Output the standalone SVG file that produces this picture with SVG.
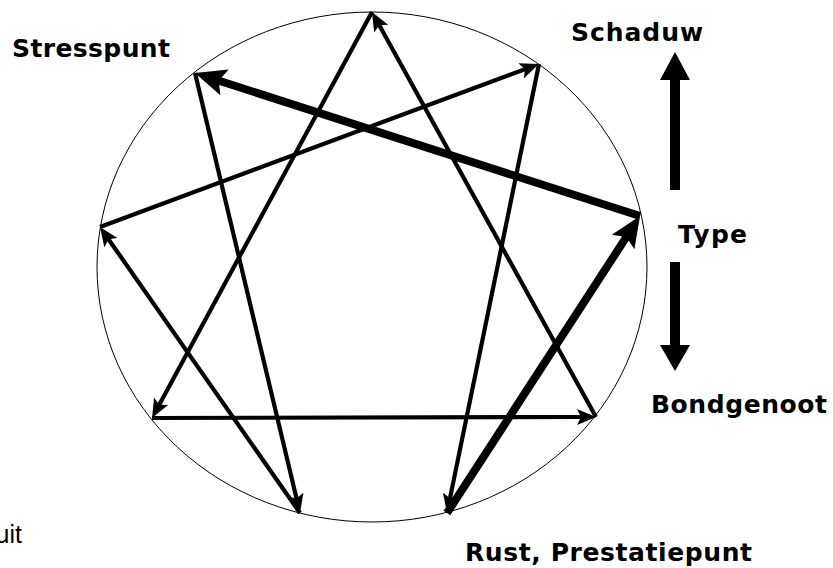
<svg xmlns="http://www.w3.org/2000/svg" width="833" height="568" viewBox="0 0 833 568">
  <style>
    .lbl { font-family: "DejaVu Sans", Verdana, sans-serif; font-weight: bold; font-size: 25px; fill: #000; }
    .reg { font-family: "Liberation Sans", Arial, sans-serif; font-size: 25px; fill: #000; }
    .thin { stroke: #000; stroke-width: 4.2; fill: none; marker-end: url(#ah); }
    .thick { stroke: #000; stroke-width: 8; fill: none; marker-end: url(#ahT); }
  </style>
  <defs>
    <marker id="ah" markerUnits="userSpaceOnUse" orient="auto" refX="0" refY="0" markerWidth="30" markerHeight="30" overflow="visible">
      <path d="M10,0 L-9,-8 L-5,0 L-9,8 Z" fill="#000"/>
    </marker>
    <marker id="ahT" markerUnits="userSpaceOnUse" orient="auto" refX="0" refY="0" markerWidth="40" markerHeight="40" overflow="visible">
      <path d="M18,0 L-13,-13.5 L-7,0 L-13,13.5 Z" fill="#000"/>
    </marker>
  </defs>
  <rect width="833" height="568" fill="#fff"/>
  <g id="circle">
    <ellipse cx="372" cy="267" rx="275" ry="255" fill="none" stroke="#000" stroke-width="1"/>
  </g>
  <g id="connectors">
    <line class="thin" x1="372" y1="12" x2="156.8" y2="409.2"/>
    <line class="thin" x1="152" y1="418" x2="586" y2="417"/>
    <line class="thin" x1="596" y1="417" x2="376.8" y2="20.75"/>
    <line class="thin" x1="539" y1="64" x2="449" y2="503.2"/>
    <line class="thin" x1="195" y1="73" x2="297.7" y2="503.3"/>
    <line class="thin" x1="300" y1="513" x2="105.7" y2="235.2"/>
    <line class="thin" x1="100" y1="227" x2="529.6" y2="67.5"/>
    <line class="thick" x1="447" y1="513" x2="630.2" y2="231.1"/>
    <line class="thick" x1="640" y1="216" x2="212.1" y2="78.5"/>
    <path d="M670,190 L670,80 L660,80 L675,52 L690,80 L680,80 L680,190 Z" fill="#000"/>
    <path d="M670,262 L670,345 L660,345 L675,371 L690,345 L680,345 L680,262 Z" fill="#000"/>
  </g>
  <g id="stresspunt"><text class="lbl" x="12" y="57" textLength="158" lengthAdjust="spacing">Stresspunt</text></g>
  <g id="schaduw"><text class="lbl" x="571" y="41" textLength="132" lengthAdjust="spacing">Schaduw</text></g>
  <g id="type"><text class="lbl" x="678" y="243" textLength="69" lengthAdjust="spacing">Type</text></g>
  <g id="bondgenoot"><text class="lbl" x="651" y="413" textLength="176" lengthAdjust="spacing">Bondgenoot</text></g>
  <g id="rust"><text class="lbl" x="465" y="561" textLength="287" lengthAdjust="spacing">Rust, Prestatiepunt</text></g>
  <g id="uit"><text class="reg" x="22" y="543" text-anchor="end">uit</text></g>
</svg>
